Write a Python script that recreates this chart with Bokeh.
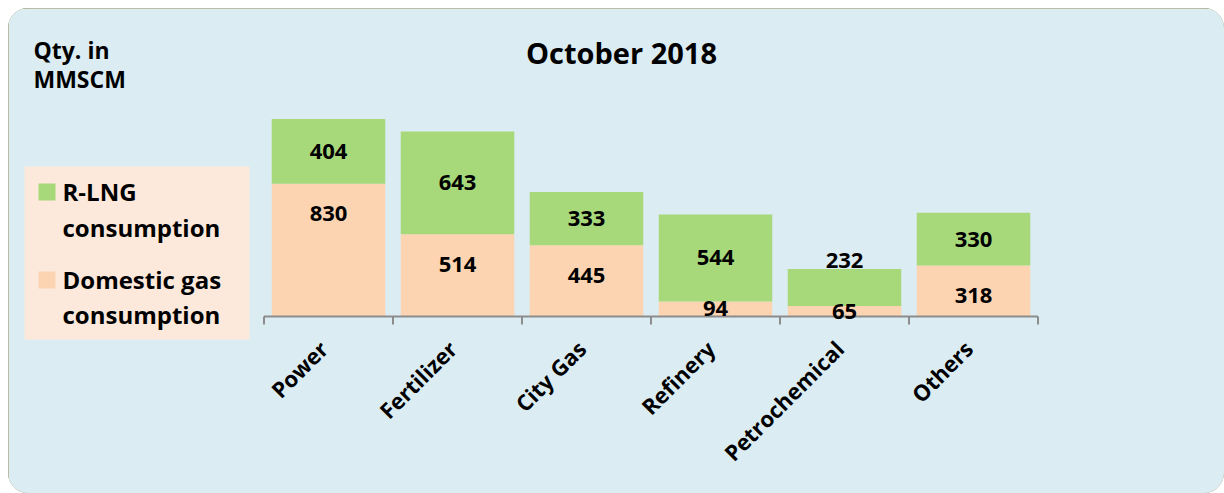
import math
from bokeh.plotting import figure
from bokeh.models import ColumnDataSource, LabelSet, Label, Range1d, BoxAnnotation
from bokeh.embed import file_html
from bokeh.resources import INLINE
from bokeh.core.properties import value

# ---------------- data ----------------
categories = ["Power", "Fertilizer", "City Gas", "Refinery", "Petrochemical", "Others"]
domestic = [830, 514, 445, 94, 65, 318]
rlng = [404, 643, 333, 544, 232, 330]
title_text = "October 2018"
unit_lines = ["Qty. in", "MMSCM"]
legend_rlng = ["R-LNG", "consumption"]
legend_dom = ["Domestic gas", "consumption"]

# ---------------- style ----------------
GREEN = "#a7d97b"
PEACH = "#fdd4b1"
BG = "#dbedf3"
LEG_BG = "#fce9db"
BORDER = "#948a54"
AXIS = "#8c8c8c"
FONT = "Open Sans"

W, H = 1216, 485          # canvas (placed at page 8,8)
X0 = 255.5                # canvas x of the first category's left edge
CAT_W = 129.0             # px per category
BASE = 308                # canvas y (from top) of value 0
PX = 0.16                 # px per unit

x_start = -0.5 - X0 / CAT_W
x_end = x_start + W / CAT_W
y_end = BASE / PX
y_start = -(H - BASE) / PX

p = figure(x_range=Range1d(x_start, x_end), y_range=Range1d(y_start, y_end),
           width=W, height=H, output_backend="svg", toolbar_location=None,
           x_axis_location=None, y_axis_location=None,
           min_border=0, min_border_left=0, min_border_right=0,
           min_border_top=0, min_border_bottom=0,
           background_fill_color=BG, border_fill_color=BG,
           outline_line_color=None)
p.grid.visible = False
p.styles = {"margin-left": "8px", "margin-top": "8px",
            "border-radius": "20px", "overflow": "hidden",
            "outline": "2px solid " + BORDER, "outline-offset": "-2px"}

idx = list(range(len(categories)))
src = ColumnDataSource(dict(x=idx, cat=categories, dom=domestic, rlng=rlng))
p.vbar_stack(["dom", "rlng"], x="x", width=0.88, source=src,
             color=[PEACH, GREEN], line_color=None)

# category axis: baseline with boundary ticks
bounds = [i - 0.5 for i in range(len(categories) + 1)]
tick_len = 8 / PX
p.segment(x0=bounds, y0=[0] * len(bounds), x1=bounds, y1=[-tick_len] * len(bounds),
          line_color=AXIS, line_width=2)
p.segment(x0=[bounds[0]], y0=[0], x1=[bounds[-1]], y1=[0],
          line_color=AXIS, line_width=2)

# category labels (rotated)
p.add_layout(LabelSet(x="x", y=0, text="cat", source=src, angle=math.pi / 4,
                      x_offset=-5, y_offset=-28,
                      text_align="right", text_baseline="middle",
                      text_font=value(FONT), text_font_style="bold",
                      text_font_size="22px", text_color="black"))

# data labels
g_y, g_off, d_y, d_off = [], [], [], []
for d, r in zip(domestic, rlng):
    if r * PX < 45:
        g_y.append(d + r); g_off.append(8)
    else:
        g_y.append(d + r / 2); g_off.append(0)
    if d * PX > 45:
        d_y.append(d); d_off.append(-30)
    else:
        d_y.append(d / 2); d_off.append(0)

lab_src = ColumnDataSource(dict(x=idx + idx, y=g_y + d_y, off=g_off + d_off,
                                txt=[str(v) for v in rlng] + [str(v) for v in domestic]))
p.add_layout(LabelSet(x="x", y="y", y_offset="off", text="txt", source=lab_src,
                      text_align="center", text_baseline="middle",
                      text_font=value(FONT), text_font_style="bold",
                      text_font_size="22px", text_color="black"))


def sx(page_x):
    return page_x - 8


def sy(page_y):
    return H - (page_y - 8)


# title
p.add_layout(Label(x=sx(621), y=sy(52), x_units="screen", y_units="screen",
                   text=title_text, text_align="center", text_baseline="middle",
                   text_font=FONT, text_font_style="bold", text_font_size="29px",
                   text_color="black"))
# units
for txt, by in zip(unit_lines, [49, 78]):
    p.add_layout(Label(x=sx(33), y=sy(by), x_units="screen", y_units="screen",
                       text=txt, text_align="left", text_baseline="alphabetic",
                       text_font=FONT, text_font_style="bold", text_font_size="23px",
                       text_color="black"))

# legend
def box(l, r, t, b, color):
    p.add_layout(BoxAnnotation(left=sx(l), right=sx(r), top=sy(t), bottom=sy(b),
                               left_units="screen", right_units="screen",
                               top_units="screen", bottom_units="screen",
                               fill_color=color, fill_alpha=1, line_color=None,
                               level="underlay"))


box(24, 249, 166, 339, LEG_BG)
box(38, 55, 183, 200, GREEN)
box(38, 55, 271, 288, PEACH)
for txt, by in zip(legend_rlng + legend_dom, [191, 227, 279, 314]):
    p.add_layout(Label(x=sx(62), y=sy(by), x_units="screen", y_units="screen",
                       text=txt, text_align="left", text_baseline="alphabetic",
                       text_font=FONT, text_font_style="bold", text_font_size="24px",
                       text_color="black"))

open("out.html", "w").write(file_html(p, INLINE))
